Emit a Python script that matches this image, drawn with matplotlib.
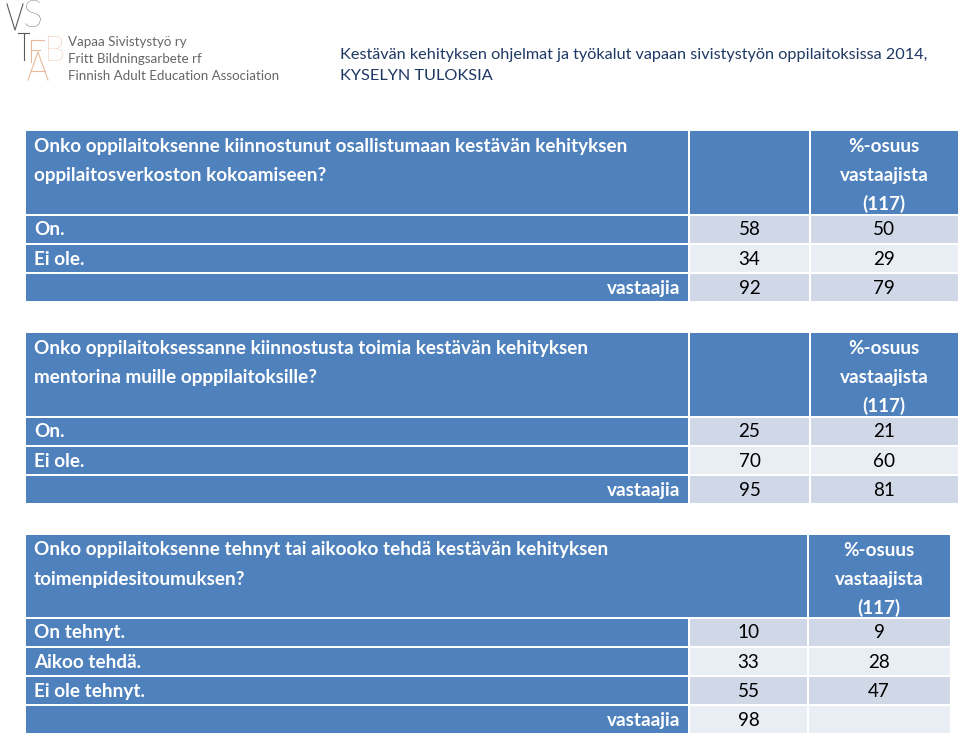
import matplotlib
matplotlib.use("Agg")
import matplotlib.pyplot as plt
from matplotlib.patches import Rectangle

plt.rcParams["font.family"] = ["Lato", "DejaVu Sans"]

BLUE = "#4F81BD"
BAND_DARK = "#D0D8E8"
BAND_LIGHT = "#E9EDF4"
TITLE_COLOR = "#1F3864"
LOGO_GREY = "#5a5a5a"
LOGO_PEACH = "#E8B99A"
FS = 13.6
LINE_PITCH = 29

TITLE = ["Kestävän kehityksen ohjelmat ja työkalut vapaan sivistystyön oppilaitoksissa 2014,",
         "KYSELYN TULOKSIA"]
LOGO_LINES = ["Vapaa Sivistystyö ry", "Fritt Bildningsarbete rf",
              "Finnish Adult Education Association"]
PCT_HEADER = ["%-osuus", "vastaajista", "(117)"]
TOTAL_LABEL = "vastaajia"

q1 = ["Onko oppilaitoksenne kiinnostunut osallistumaan kestävän kehityksen",
      "oppilaitosverkoston kokoamiseen?"]
labels1 = ["On.", "Ei ole."]
counts1 = [58, 34]
pcts1 = [50, 29]
total1 = 92
total_pct1 = 79

q2 = ["Onko oppilaitoksessanne kiinnostusta toimia kestävän kehityksen",
      "mentorina muille opppilaitoksille?"]
labels2 = ["On.", "Ei ole."]
counts2 = [25, 70]
pcts2 = [21, 60]
total2 = 95
total_pct2 = 81

q3 = ["Onko oppilaitoksenne tehnyt tai aikooko tehdä kestävän kehityksen",
      "toimenpidesitoumuksen?"]
labels3 = ["On tehnyt.", "Aikoo tehdä.", "Ei ole tehnyt."]
counts3 = [10, 33, 55]
pcts3 = [9, 28, 47]
total3 = 98
total_pct3 = None


def cell(ax, x0, x1, y0, y1, color):
    ax.add_patch(Rectangle((x0, y0), x1 - x0, y1 - y0, facecolor=color,
                           edgecolor="none"))


def lines_at(ax, x, y, lines, ha):
    for k, line in enumerate(lines):
        ax.text(x, y + k * LINE_PITCH, line, color="white", fontsize=FS,
                fontweight="bold", va="center", ha=ha)


def draw_table(ax, top, question, labels, counts, pcts, total, total_pct,
               cols, merge_header=False, header_h=83, row_h=27.3, gap=1.8):
    x0, c1, c2, x3 = cols
    hb = top + header_h
    # header
    if merge_header:
        cell(ax, x0, c2 - 1, top, hb, BLUE)
    else:
        cell(ax, x0, c1 - 1, top, hb, BLUE)
        cell(ax, c1 + 1, c2 - 1, top, hb, BLUE)
    cell(ax, c2 + 1, x3, top, hb, BLUE)
    lines_at(ax, x0 + 8, top + 15, question, "left")
    lines_at(ax, (c2 + x3) / 2, top + 15, PCT_HEADER, "center")

    rows = list(zip(labels, counts, pcts)) + [(None, total, total_pct)]
    y = hb + gap
    for i, (lab, cnt, pct) in enumerate(rows):
        band = BAND_DARK if i % 2 == 0 else BAND_LIGHT
        cell(ax, x0, c1 - 1, y, y + row_h, BLUE)
        cell(ax, c1 + 1, c2 - 1, y, y + row_h, band)
        cell(ax, c2 + 1, x3, y, y + row_h, band)
        yc = y + row_h / 2 + 0.5
        if lab is None:
            ax.text(c1 - 9, yc, TOTAL_LABEL, color="white", fontsize=FS,
                    fontweight="bold", va="center", ha="right")
        else:
            ax.text(x0 + 8, yc, lab, color="white", fontsize=FS,
                    fontweight="bold", va="center", ha="left")
        ax.text((c1 + c2) / 2, yc, str(cnt), color="black", fontsize=FS,
                va="center", ha="center")
        if pct is not None:
            ax.text((c2 + x3) / 2, yc, str(pct), color="black", fontsize=FS,
                    va="center", ha="center")
        y += row_h + gap


fig = plt.figure(figsize=(9.6, 7.35), dpi=100)
ax = fig.add_axes([0, 0, 1, 1])
ax.set_xlim(0, 960)
ax.set_ylim(735, 0)
ax.axis("off")

# logo mark: V S / T / F A B
ax.plot([7, 15, 23], [4, 30, 4], color=LOGO_GREY, lw=0.8)
ax.text(33, 17, "S", color=LOGO_GREY, fontsize=27, fontweight="light",
        ha="center", va="center")
ax.plot([18, 29], [33, 33], color=LOGO_GREY, lw=0.8)
ax.plot([24, 24], [33, 60], color=LOGO_GREY, lw=0.8)
ax.plot([44, 31, 31], [40, 40, 62], color=LOGO_PEACH, lw=0.8)
ax.plot([31, 40], [50, 50], color=LOGO_PEACH, lw=0.8)
ax.plot([28, 38, 48], [80, 52, 80], color=LOGO_PEACH, lw=0.8)
ax.plot([31, 45], [71, 71], color=LOGO_PEACH, lw=0.8)
ax.text(55, 51, "B", color=LOGO_PEACH, fontsize=25, fontweight="light",
        ha="center", va="center")
for i, line in enumerate(LOGO_LINES):
    ax.text(68, 42 + i * 17, line, color="#666666", fontsize=9.6,
            ha="left", va="center")

for k, line in enumerate(TITLE):
    ax.text(340, 55 + k * 21, line, color=TITLE_COLOR, fontsize=11.7,
            ha="left", va="center")

draw_table(ax, 131, q1, labels1, counts1, pcts1, total1, total_pct1,
           (26, 689, 810, 958))
draw_table(ax, 333, q2, labels2, counts2, pcts2, total2, total_pct2,
           (26, 689, 810, 958))
draw_table(ax, 535, q3, labels3, counts3, pcts3, total3, total_pct3,
           (26, 689, 808, 950), merge_header=True, header_h=82)

fig.savefig("out.png", dpi=100)
